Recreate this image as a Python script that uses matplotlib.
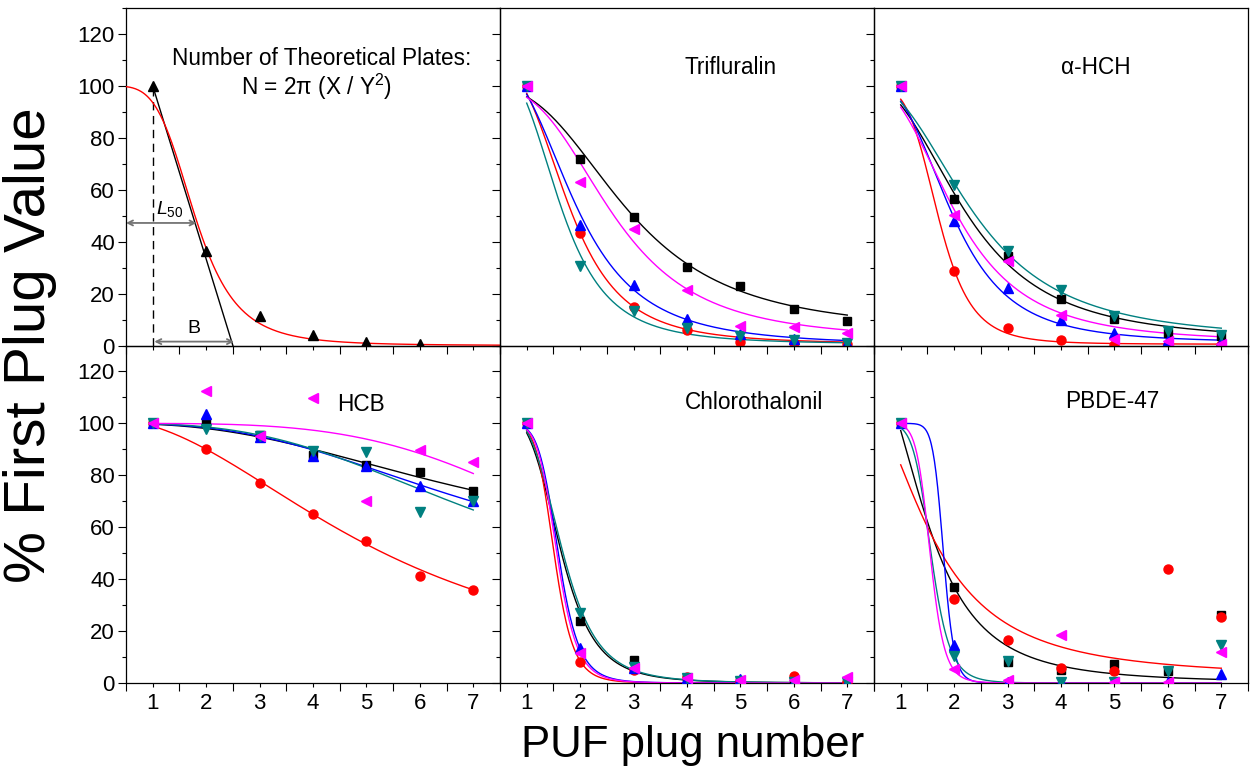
import numpy as np
import matplotlib
matplotlib.use('Agg')
import matplotlib.pyplot as plt
from matplotlib.ticker import MultipleLocator

plt.rcParams['font.family'] = ['Liberation Sans', 'DejaVu Sans']
plt.rcParams['mathtext.fontset'] = 'custom'
plt.rcParams['mathtext.rm'] = 'Liberation Sans'
plt.rcParams['mathtext.it'] = 'Liberation Sans:italic'

plugs = [1, 2, 3, 4, 5, 6, 7]

# ---- example panel ----
ex_plugs = [1, 2, 3, 4, 5, 6]
ex_vals = [100, 36.5, 11.2, 4.2, 1.2, 0.6]
ex_fit = (100, 0, 1.79, 4.6)          # A1, A2, x0, p (logistic)

# ---- Trifluralin ----
trif_black = [100, 72.0, 49.6, 30.2, 22.8, 14.0, 9.5]
trif_red = [100, 43.3, 15.0, 5.8, 1.5, 0.8, 0.5]
trif_blue = [100, 46.6, 23.4, 10.3, 4.5, 2.5, 1.0]
trif_teal = [100, 30.7, 13.4, 6.7, 3.5, 2.2, 0.9]
trif_magenta = [100, 62.9, 44.9, 21.5, 7.6, 7.3, 4.8]
trif_fits = [(100, 5, 2.88, 2.9), (110, 0.5, 1.765, 3.55), (110, 0, 1.9, 3.1),
             (110, 0.5, 1.612, 3.6), (100, 2, 2.6, 3.2)]

# ---- alpha-HCH ----
hch_black = [100, 56.6, 34.3, 18.0, 10.2, 5.0, 3.5]
hch_red = [100, 28.8, 6.9, 2.2, 0.3, 0.1, 0.1]
hch_blue = [100, 47.8, 22.3, 9.9, 4.8, 2.2, 1.2]
hch_teal = [100, 62.0, 36.3, 21.5, 11.2, 5.4, 4.1]
hch_magenta = [100, 50.2, 32.4, 11.8, 2.6, 1.7, 0.7]
hch_fits = [(103, 1.5, 2.19, 2.78), (100, 0.5, 1.697, 5.5), (103, 1, 1.937, 3.55),
            (103, 2, 2.32, 2.74), (103, 1, 2.008, 3.0)]

# ---- HCB ----
hcb_black = [100, 100.2, 95.4, 88.0, 84.1, 81.1, 73.8]
hcb_red = [100, 90.3, 77.0, 65.2, 54.8, 41.3, 35.9]
hcb_blue = [100, 103.8, 94.6, 87.6, 83.6, 75.7, 70.0]
hcb_teal = [100, 97.9, 95.0, 89.2, 88.8, 65.8, 70.0]
hcb_magenta = [100, 112.4, 95.0, 109.8, 70.2, 89.6, 85.0]
hcb_fits = [(100, 50, 6.83, 2.6), (102, 0, 5.23, 2.1), (100, 40, 6.97, 2.85),
            (100, 30, 7.22, 3.05), (100, 0, 10.1, 3.9)]

# ---- Chlorothalonil ----
chl_black = [100, 24.0, 8.9, 2.0, 0.9, 0.5, 0.3]
chl_red = [100, 8.0, 5.0, 2.4, 0.9, 2.8, 0.5]
chl_blue = [100, 13.4, 5.6, 1.8, 1.4, 0.5, 0.5]
chl_teal = [100, 27.1, 6.3, 2.1, 0.8, 0.5, 0.5]
chl_magenta = [100, 11.5, 5.6, 2.1, 1.0, 1.0, 2.3]
chl_fits = [(105, 0, 1.62, 5.0), (100, 0, 1.512, 8.5), (100, 0, 1.59, 8.2),
            (105, 0, 1.65, 5.0), (100, 0, 1.564, 8.3)]

# ---- PBDE-47 ----
pbde_black = [100, 36.9, 8.2, 5.1, 7.4, 4.6, 26.2]
pbde_red = [100, 32.3, 16.6, 5.6, 4.6, 43.9, 25.6]
pbde_blue = [100, 14.7, 0.3, 0.2, 0.2, 0.2, 3.6]
pbde_teal = [100, 10.5, 8.4, 0.5, 0.3, 4.6, 14.7]
pbde_magenta = [100, 5.3, 1.1, 18.3, 0.2, 0.2, 12.1]
pbde_fits = [(130, 0, 1.455, 2.9), (116, 2, 1.526, 2.23), (100, 0, 1.8, 18),
             (100, 0, 1.567, 9.0), (100, 0, 1.55, 11.6)]

names = ['Trifluralin', r'α-HCH', 'HCB', 'Chlorothalonil', 'PBDE-47']
panel_data = [
    [trif_black, trif_red, trif_blue, trif_teal, trif_magenta],
    [hch_black, hch_red, hch_blue, hch_teal, hch_magenta],
    [hcb_black, hcb_red, hcb_blue, hcb_teal, hcb_magenta],
    [chl_black, chl_red, chl_blue, chl_teal, chl_magenta],
    [pbde_black, pbde_red, pbde_blue, pbde_teal, pbde_magenta],
]
panel_fits = [trif_fits, hch_fits, hcb_fits, chl_fits, pbde_fits]
title_pos = [(4.81, 106.9), (4.65, 106.9), (4.9, 107.3), (5.26, 108.0), (4.95, 108.4)]

colors = ['#000000', '#FF0000', '#0000FF', '#008080', '#FF00FF']
markers = ['s', 'o', '^', 'v', '<']
msizes = [6, 6.5, 7.5, 7.5, 7.5]
draw_order = [0, 1, 2, 3, 4]


def logistic(x, A1, A2, x0, p):
    return A2 + (A1 - A2) / (1.0 + (x / x0) ** p)


fig = plt.figure(figsize=(12.55, 7.76), dpi=100)
gs = fig.add_gridspec(2, 3, left=126 / 1255, right=1248 / 1255,
                      top=1 - 8 / 776, bottom=1 - 683 / 776,
                      wspace=0, hspace=0)
axes = [[fig.add_subplot(gs[r, c]) for c in range(3)] for r in range(2)]

TICKFS = 16
for r in range(2):
    for c in range(3):
        ax = axes[r][c]
        ax.patch.set_visible(False)
        ax.set_xlim(0.5, 7.5)
        ax.set_ylim(0, 130)
        ax.xaxis.set_major_locator(MultipleLocator(1))
        ax.xaxis.set_minor_locator(MultipleLocator(0.5))
        ax.yaxis.set_major_locator(MultipleLocator(20))
        ax.yaxis.set_minor_locator(MultipleLocator(10))
        ax.set_yticks([0, 20, 40, 60, 80, 100, 120])
        ax.tick_params(axis='x', which='major', direction='out', length=3, width=0.8,
                       labelsize=TICKFS, pad=4, top=False)
        ax.tick_params(axis='x', which='minor', direction='out', length=6, width=0.8,
                       top=False)
        ax.tick_params(axis='y', which='major', direction='out', length=6, width=0.8,
                       labelsize=TICKFS, pad=2, right=False)
        ax.tick_params(axis='y', which='minor', direction='out', length=3, width=0.8,
                       right=False)
        for s in ax.spines.values():
            s.set_linewidth(0.9)
        if r == 0:
            ax.tick_params(axis='x', labelbottom=False)
        if c > 0:
            ax.tick_params(axis='y', labelleft=False)

# ---- example panel ----
ax0 = axes[0][0]
xx = np.linspace(0.5, 7.5, 400)
ax0.plot(xx, logistic(xx, *ex_fit), color='#FF0000', lw=1.0, zorder=3)
ax0.plot([1, 2.5], [100, 0], color='black', lw=1.0, zorder=2)
ax0.plot([1, 1], [0, 100], color='black', lw=1.0, ls=(0, (6, 4)), zorder=2)
ax0.plot(ex_plugs, ex_vals, ls='none', marker='^', color='black', ms=7.5, zorder=4)
ax0.annotate('', xy=(0.5, 47.2), xytext=(1.82, 47.2),
             arrowprops=dict(arrowstyle='<->', color='0.45', lw=1.3,
                             shrinkA=0, shrinkB=0, mutation_scale=9))
ax0.annotate('', xy=(1.03, 1.5), xytext=(2.52, 1.5),
             arrowprops=dict(arrowstyle='<->', color='0.45', lw=1.3,
                             shrinkA=0, shrinkB=0, mutation_scale=9))
ax0.text(1.06, 48.8, r'$\mathit{L}_{\mathrm{50}}$', fontsize=14, ha='left', va='bottom')
ax0.text(1.77, 6.5, 'B', fontsize=14, ha='center', va='center')
ax0.text(4.17, 110.7, 'Number of Theoretical Plates:', fontsize=16.3, ha='center', va='center')
ax0.text(4.06, 99.8, r'N = 2π (X / Y$^{2}$)', fontsize=16.3, ha='center', va='center')

# ---- compound panels ----
panel_axes = [axes[0][1], axes[0][2], axes[1][0], axes[1][1], axes[1][2]]
xf = np.linspace(1, 7, 400)
for ax, data, fits, name, tp in zip(panel_axes, panel_data, panel_fits, names, title_pos):
    for i in draw_order:
        ax.plot(xf, logistic(xf, *fits[i]), color=colors[i], lw=1.0, zorder=2)
    for i in draw_order:
        ax.plot(plugs, data[i], ls='none', marker=markers[i], color=colors[i],
                ms=msizes[i], zorder=3 + i * 0.01)
    ax.text(tp[0], tp[1], name, fontsize=16.3, ha='center', va='center')

fig.text(0.024, 1 - 345 / 776, '% First Plug Value', rotation=90, fontsize=42,
         ha='center', va='center')
fig.text(0.552, 1 - 745 / 776, 'PUF plug number', fontsize=31.5, ha='center', va='center')

fig.savefig('out.png', dpi=100)
